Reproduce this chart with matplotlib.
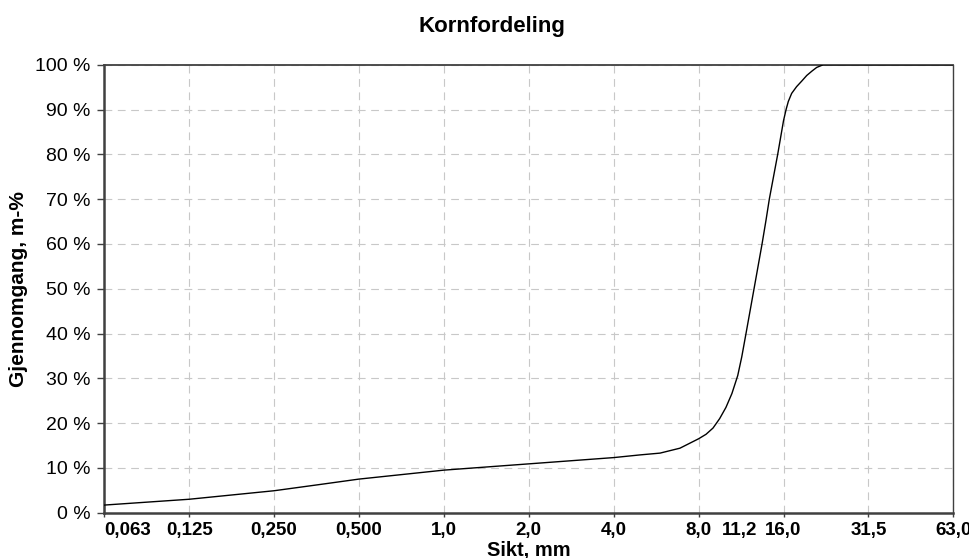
import numpy as np
import matplotlib.pyplot as plt
import matplotlib.transforms as mtransforms
from matplotlib.ticker import FixedLocator

plt.rcParams['font.family'] = ['Liberation Sans', 'DejaVu Sans']

# Sieve sizes (mm) and passing (%)
sikt = [0.0625, 0.125, 0.25, 0.364, 0.5, 1.0, 2.0, 4.0, 4.96, 5.84, 6.87,
        8.0, 8.5, 9.0, 9.5, 10.0, 10.5, 11.01, 11.38, 11.78, 12.58, 13.43,
        13.87, 14.25, 15.26, 16.0, 16.34, 16.64, 17.1, 17.8, 18.6, 19.34,
        20.2, 20.98, 22.14, 64.0]
gjennomgang = [1.7, 3.0, 4.9, 6.3, 7.5, 9.5, 10.9, 12.3, 12.9, 13.3, 14.4,
               16.5, 17.5, 18.9, 21.0, 23.5, 26.6, 30.6, 34.8, 40.0, 50.0, 60.0,
               65.3, 70.0, 80.0, 87.5, 90.0, 91.8, 93.6, 95.1, 96.4, 97.6,
               98.6, 99.4, 100.0, 100.0]

# Sieve series shown on the axis
sikt_ticks = [0.0625, 0.125, 0.25, 0.5, 1.0, 2.0, 4.0, 8.0, 16.0, 32.0, 64.0]
sikt_labels = ['0,063', '0,125', '0,250', '0,500', '1,0', '2,0', '4,0', '8,0',
               '16,0', '31,5', '63,0']
extra_tick = [11.2]
extra_label = ['11,2']

y_ticks = np.arange(0, 101, 10)
y_labels = [f'{v} %' for v in y_ticks]

fig = plt.figure(figsize=(9.7, 5.58), dpi=100)
ax = fig.add_axes([0.1075, 0.0812, 0.8753, 0.8028])

ax.plot(sikt, gjennomgang, color='black', lw=1.0, zorder=3)

ax.set_xscale('log', base=2)
ax.set_xlim(0.0625, 64)
ax.set_ylim(0, 100)

ax.xaxis.set_major_locator(FixedLocator(sikt_ticks))
ax.set_xticklabels(sikt_labels)
ax.set_xticks(extra_tick, extra_label, minor=True)

ax.set_yticks(y_ticks)
ax.set_yticklabels(y_labels, fontsize=14)

for lab in ax.get_xticklabels(which='both'):
    lab.set_fontweight('bold')
    lab.set_fontsize(13.5)

# first label sits inside the plot area
first = ax.get_xticklabels()[0]
first.set_ha('left')
first.set_transform(first.get_transform() +
                    mtransforms.ScaledTranslation(6 / 100, 0, fig.dpi_scale_trans))

ax.grid(True, which='major', color='#c8c8c8', lw=0.8, linestyle=(0, (7, 5)))
ax.set_axisbelow(True)

ax.tick_params(axis='y', length=5, width=1.0, color='#404040', pad=5)
ax.tick_params(axis='x', which='major', length=3, width=1.0, color='#404040', pad=4)
ax.tick_params(axis='x', which='minor', length=0, pad=7)

for side, lw in [('left', 1.8), ('bottom', 1.8), ('top', 1.3), ('right', 1.0)]:
    ax.spines[side].set_linewidth(lw)
    ax.spines[side].set_color('#404040')

ax.set_xlabel('Sikt, mm', fontsize=14.5, fontweight='bold', labelpad=1)
ax.set_ylabel('Gjennomgang, m-%', fontsize=15, fontweight='bold', labelpad=5)
fig.text(0.507, 0.953, 'Kornfordeling', ha='center', va='center',
         fontsize=16, fontweight='bold')

plt.savefig('out.png', dpi=100)
